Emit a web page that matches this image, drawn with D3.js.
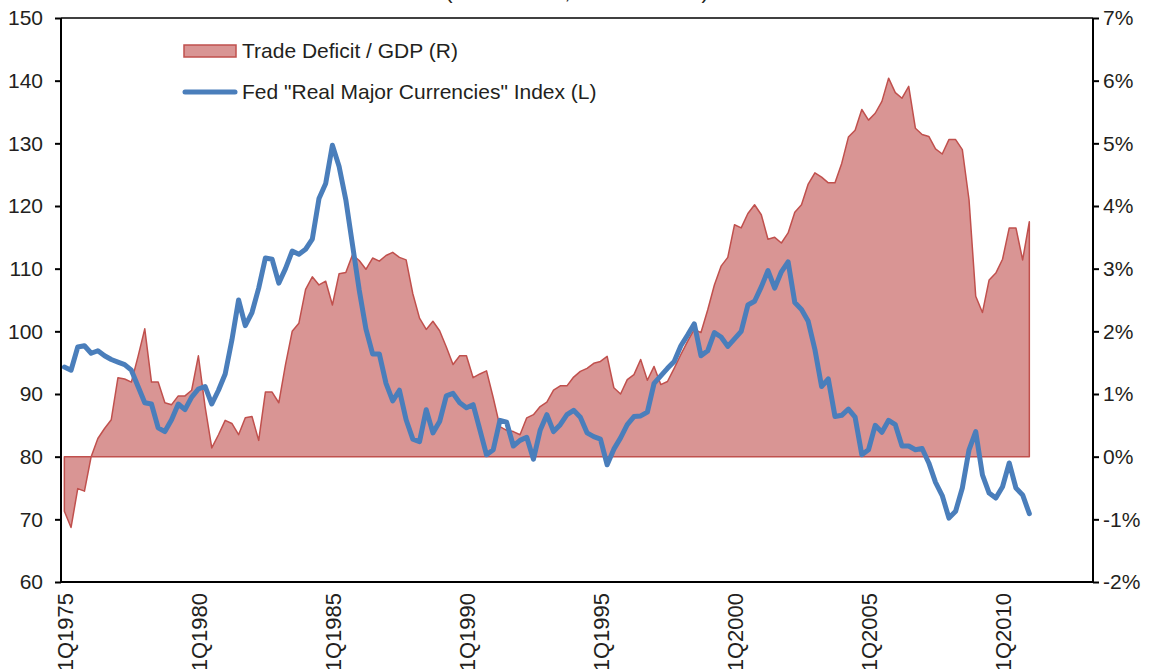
<!DOCTYPE html>
<html>
<head>
<meta charset="utf-8">
<script src="https://d3js.org/d3.v7.min.js"></script>
<style>
  body { margin: 0; background: #fff; }
  text { font-family: "Liberation Sans", Arial, sans-serif; fill: #231f20; }
</style>
</head>
<body>
<div id="chart"></div>
<script>
// quarterly, 1Q1975 .. 1Q2011
var startYear = 1975;
var tickLabels = ["1Q1975", "1Q1980", "1Q1985", "1Q1990", "1Q1995", "1Q2000", "1Q2005", "1Q2010"];

// Trade Deficit / GDP, % (right axis)
var tradeDeficit = [
  -0.87, -1.13, -0.51, -0.55, 0.00, 0.29, 0.45, 0.59, 1.26, 1.24,
  1.19, 1.60, 2.04, 1.19, 1.19, 0.86, 0.83, 0.97, 0.97, 1.06,
  1.61, 0.80, 0.14, 0.35, 0.58, 0.53, 0.35, 0.62, 0.64, 0.26,
  1.03, 1.03, 0.86, 1.47, 2.00, 2.13, 2.67, 2.87, 2.74, 2.80,
  2.42, 2.92, 2.94, 3.22, 3.13, 2.99, 3.17, 3.12, 3.21, 3.26,
  3.18, 3.14, 2.60, 2.21, 2.03, 2.16, 2.01, 1.75, 1.47, 1.61,
  1.61, 1.26, 1.32, 1.37, 0.94, 0.48, 0.42, 0.40, 0.35, 0.62,
  0.67, 0.80, 0.87, 1.06, 1.13, 1.13, 1.27, 1.36, 1.41, 1.49,
  1.52, 1.60, 1.10, 1.00, 1.23, 1.31, 1.55, 1.22, 1.44, 1.15,
  1.20, 1.41, 1.63, 1.84, 2.03, 1.98, 2.34, 2.74, 3.04, 3.18,
  3.70, 3.65, 3.88, 4.02, 3.86, 3.47, 3.50, 3.41, 3.57, 3.90,
  4.02, 4.35, 4.53, 4.46, 4.37, 4.37, 4.68, 5.10, 5.21, 5.54,
  5.37, 5.48, 5.67, 6.04, 5.81, 5.72, 5.91, 5.24, 5.14, 5.11,
  4.91, 4.83, 5.06, 5.06, 4.90, 4.10, 2.56, 2.30, 2.82, 2.93,
  3.15, 3.65, 3.65, 3.14, 3.75
];

// Fed "Real Major Currencies" Index (left axis)
var fedIndex = [
  94.3, 93.8, 97.5, 97.7, 96.5, 96.9, 96.1, 95.5, 95.1, 94.7,
  93.8, 91.2, 88.6, 88.4, 84.6, 84.0, 85.9, 88.4, 87.5, 89.5,
  90.8, 91.2, 88.4, 90.6, 93.2, 98.6, 105.0, 100.9, 103.0, 106.9,
  111.7, 111.5, 107.7, 110.0, 112.8, 112.3, 113.1, 114.7, 121.2, 123.6,
  129.7, 126.3, 121.0, 113.8, 106.6, 100.4, 96.4, 96.4, 91.7, 88.9,
  90.6, 85.9, 82.8, 82.4, 87.5, 83.8, 85.6, 89.7, 90.1, 88.6,
  87.8, 88.3, 84.3, 80.3, 81.1, 85.8, 85.5, 81.7, 82.6, 83.1,
  79.6, 84.2, 86.7, 84.0, 85.1, 86.7, 87.4, 86.3, 83.8, 83.2,
  82.8, 78.7, 81.2, 83.0, 85.1, 86.4, 86.5, 87.1, 91.7, 92.9,
  94.1, 95.2, 97.7, 99.4, 101.2, 96.1, 96.9, 99.8, 99.1, 97.6,
  98.8, 100.0, 104.2, 104.8, 107.1, 109.7, 106.9, 109.5, 111.1, 104.6,
  103.5, 101.6, 97.1, 91.2, 92.4, 86.4, 86.6, 87.6, 86.3, 80.3,
  81.1, 85.0, 83.9, 85.8, 85.1, 81.7, 81.7, 81.1, 81.3, 79.0,
  75.9, 73.8, 70.2, 71.3, 75.0, 81.1, 84.0, 77.1, 74.2, 73.4,
  75.2, 79.0, 75.0, 73.9, 70.9
];

var leftTicks = [60, 70, 80, 90, 100, 110, 120, 130, 140, 150];
var rightTicks = [-2, -1, 0, 1, 2, 3, 4, 5, 6, 7];

var w = 1154, h = 669;
var plotLeft = 61, plotRight = 1093, plotTop = 18, plotBottom = 582;
var nSlots = 154; // category slots on the axis, data fills the first 145
var fontSize = "21px";

var quarters = tradeDeficit.map(function(d, i) {
  return (i % 4 + 1) + "Q" + (startYear + Math.floor(i / 4));
});

var xScale = d3.scaleLinear().domain([-0.5, nSlots - 0.5]).range([plotLeft, plotRight]);
var yLeft = d3.scaleLinear().domain([60, 150]).range([plotBottom, plotTop]);
var yRight = d3.scaleLinear().domain([-2, 7]).range([plotBottom, plotTop]);

var svg = d3.select("#chart").append("svg")
  .attr("width", w)
  .attr("height", h);

// title, mostly off the top of the picture
svg.append("text")
  .attr("x", (plotLeft + plotRight) / 2)
  .attr("y", -1)
  .attr("text-anchor", "middle")
  .style("font-size", fontSize)
  .text("(U.S. Dollars, Mar-73 = 100)");

// trade deficit area, closed outline like the Excel original
var area = d3.area()
  .x(function(d, i) { return xScale(i); })
  .y0(yRight(0))
  .y1(function(d) { return yRight(d); });

svg.append("path")
  .datum(tradeDeficit)
  .attr("d", area)
  .attr("fill", "#d99594")
  .attr("stroke", "#c0504d")
  .attr("stroke-width", 1.5)
  .attr("stroke-linejoin", "round");

// fed index line
var line = d3.line()
  .x(function(d, i) { return xScale(i); })
  .y(function(d) { return yLeft(d); });

svg.append("path")
  .datum(fedIndex)
  .attr("d", line)
  .attr("fill", "none")
  .attr("stroke", "#4a7ebb")
  .attr("stroke-width", 5)
  .attr("stroke-linejoin", "round")
  .attr("stroke-linecap", "round");

// frame
svg.append("line")
  .attr("x1", plotLeft).attr("x2", plotRight)
  .attr("y1", plotTop).attr("y2", plotTop)
  .attr("stroke", "#000").attr("stroke-width", 1.5);

// axes
var leftAxis = d3.axisLeft(yLeft).tickValues(leftTicks).tickSize(6).tickPadding(12);
var rightAxis = d3.axisRight(yRight).tickValues(rightTicks).tickSize(6).tickPadding(4)
  .tickFormat(function(d) { return d + "%"; });
var bottomAxis = d3.axisBottom(xScale)
  .tickValues(tickLabels.map(function(t) { return quarters.indexOf(t); }))
  .tickSize(0).tickPadding(8)
  .tickFormat(function(i) { return quarters[i]; });

var gl = svg.append("g")
  .attr("transform", "translate(" + plotLeft + ",0)")
  .call(leftAxis);
var gr = svg.append("g")
  .attr("transform", "translate(" + plotRight + ",0)")
  .call(rightAxis);
var gb = svg.append("g")
  .attr("transform", "translate(0," + plotBottom + ")")
  .call(bottomAxis);

[gl, gr, gb].forEach(function(g) {
  g.select(".domain").attr("stroke", "#000").attr("stroke-width", 2);
  g.selectAll(".tick line").attr("stroke", "#000").attr("stroke-width", 2);
  g.selectAll("text").style("font-size", fontSize).attr("fill", "#231f20")
    .style("font-family", "'Liberation Sans', Arial, sans-serif");
});
gl.select(".domain").attr("d", "M0," + plotTop + "V" + plotBottom);
gr.select(".domain").attr("d", "M0," + plotTop + "V" + plotBottom);
gb.select(".domain").attr("d", "M" + plotLeft + ",0H" + plotRight);

gb.selectAll(".tick text")
  .style("font-size", "22px")
  .attr("transform", "rotate(-90)")
  .attr("text-anchor", "end")
  .attr("x", -11)
  .attr("y", 0)
  .attr("dy", "0.35em");

// legend
var legend = svg.append("g");
legend.append("rect")
  .attr("x", 184).attr("y", 45)
  .attr("width", 52).attr("height", 12)
  .attr("fill", "#d99594")
  .attr("stroke", "#c0504d")
  .attr("stroke-width", 1.5);
legend.append("text")
  .attr("x", 242).attr("y", 58)
  .style("font-size", fontSize)
  .text("Trade Deficit / GDP (R)");
legend.append("line")
  .attr("x1", 185).attr("x2", 235)
  .attr("y1", 92).attr("y2", 92)
  .attr("stroke", "#4a7ebb")
  .attr("stroke-width", 5)
  .attr("stroke-linecap", "round");
legend.append("text")
  .attr("x", 242).attr("y", 99)
  .style("font-size", fontSize)
  .text("Fed \"Real Major Currencies\" Index (L)");
</script>
</body>
</html>
